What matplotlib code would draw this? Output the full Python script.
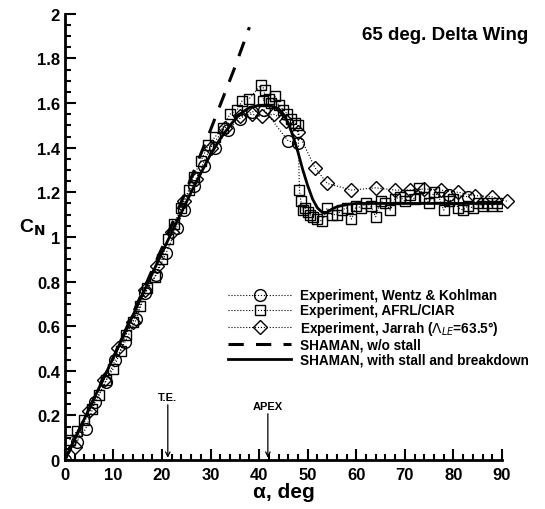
import numpy as np
import matplotlib
matplotlib.use('Agg')
import matplotlib.pyplot as plt

plt.rcParams['font.family'] = ['Liberation Sans', 'DejaVu Sans']

# Experiment, Wentz & Kohlman (NaN splits the two runs)
wentz_a = [0, 2.4, 4.3, 6.2, 8.4, 10.4, 12.4, 14.7, 16.6, 18.8, 20.9, 23.0, 24.5, 26.5,
           28.7, 31.0, 33.5, 36.0, 38.5, 41.0, 46.0, 48.0, np.nan, 79.0, 83.0]
wentz_cn = [0, 0.08, 0.14, 0.26, 0.35, 0.45, 0.53, 0.63, 0.75, 0.83, 0.93, 1.04, 1.12, 1.23,
            1.32, 1.40, 1.48, 1.53, 1.56, 1.57, 1.43, 1.42, np.nan, 1.19, 1.18]

# Experiment, AFRL/CIAR
afrl_a = [1, 2.5, 4, 5.5, 7, 8.5, 10, 11.5, 12.5, 14, 15.5, 17, 18.5, 20, 21.3, 22.5, 24,
          25.5, 26.5, 28, 29.5, 31, 32.5, 34, 35.5, 36.5, 38, 40.3, 41.2, 40.8, 42, 42.5,
          43.3, 44, 45, 45.8, 46.5, 47.3, 48.0, 48.3, 48.6, 49, 49.5, 50, 50.5, 51, 52, 53,
          54, 55, 56, 57, 58, 59, 60, 61, 62, 63, 64, 65, 66, 67, 68, 69, 70, 71, 72, 73,
          74, 75, 76, 77, 78, 79, 80, 81, 82, 83, 84, 85, 86, 87, 88, 89, 90]
afrl_cn = [0.09, 0.13, 0.18, 0.23, 0.29, 0.36, 0.41, 0.49, 0.56, 0.62, 0.69, 0.77, 0.82,
           0.90, 0.99, 1.06, 1.13, 1.21, 1.27, 1.34, 1.41, 1.45, 1.49, 1.55, 1.57, 1.61,
           1.62, 1.68, 1.66, 1.61, 1.62, 1.60, 1.63, 1.59, 1.57, 1.55, 1.53, 1.51, 1.50,
           1.21, 1.16, 1.12, 1.13, 1.11, 1.10, 1.09, 1.08, 1.07, 1.13, 1.10, 1.10, 1.12,
           1.13, 1.08, 1.14, 1.13, 1.15, 1.14, 1.09, 1.16, 1.15, 1.12, 1.17, 1.18, 1.16,
           1.19, 1.17, 1.22, 1.18, 1.15, 1.20, 1.18, 1.12, 1.16, 1.17, 1.13, 1.12, 1.14,
           1.13, 1.15, 1.14, 1.15, 1.14, 1.15, 1.14]

# Experiment, Jarrah
jarrah_a = [2, 5, 8, 11, 14, 16.5, 19, 22, 24.5, 27, 30, 33, 36, 38.5, 40.5, 43, 45.5, 48,
            51.5, 54, 59, 64, 68, 71, 74, 77.5, 81, 84.5, 88, 91]
jarrah_cn = [0.06, 0.22, 0.36, 0.50, 0.62, 0.76, 0.87, 1.02, 1.16, 1.26, 1.40, 1.49, 1.54,
             1.55, 1.54, 1.55, 1.52, 1.47, 1.31, 1.24, 1.21, 1.22, 1.21, 1.21, 1.215,
             1.21, 1.20, 1.185, 1.18, 1.16]

# SHAMAN, w/o stall
nostall_a = [0, 10, 20, 25, 30, 35, 38]
nostall_cn = [0, 0.46, 0.95, 1.21, 1.48, 1.76, 1.94]

# SHAMAN, with stall and breakdown
shaman_a = [0, 10, 20, 26, 30, 32, 34, 36, 38, 40, 42, 44, 45, 46, 47, 48, 49, 50, 51,
            52, 53, 54, 55, 56, 58, 60, 70, 80, 90]
shaman_cn = [0, 0.46, 0.93, 1.20, 1.37, 1.44, 1.50, 1.55, 1.58, 1.59, 1.59, 1.575, 1.55,
             1.51, 1.45, 1.38, 1.30, 1.23, 1.17, 1.13, 1.11, 1.11, 1.125, 1.135, 1.145,
             1.15, 1.15, 1.15, 1.15]

fig = plt.figure(figsize=(5.45, 5.1), dpi=100)
ax = fig.add_axes([0.119, 0.096, 0.802, 0.875])

ax.plot(wentz_a, wentz_cn, color='k', ls=':', lw=0.8, marker='o', ms=8.5, mfc='none',
        mec='k', mew=1.0, label='Experiment, Wentz & Kohlman')
ax.plot(afrl_a, afrl_cn, color='k', ls=':', lw=0.8, marker='s', ms=7, mfc='none',
        mec='k', mew=1.0, label='Experiment, AFRL/CIAR')
ax.plot(jarrah_a, jarrah_cn, color='k', ls=':', lw=0.8, marker='D', ms=7, mfc='none',
        mec='k', mew=1.0, clip_on=False, label=r'Experiment, Jarrah ($\Lambda_{LE}$=63.5°)')
ax.plot(nostall_a, nostall_cn, color='k', ls=(0, (5, 4)), lw=2.2, label='SHAMAN, w/o stall')
ax.plot(shaman_a, shaman_cn, color='k', ls='-', lw=2.0,
        label='SHAMAN, with stall and breakdown')

ax.set_xlim(0, 90)
ax.set_ylim(0, 2)
ax.set_xticks(np.arange(0, 91, 10))
ax.set_xticks(np.arange(0, 91, 2), minor=True)
ax.set_yticks(np.arange(0, 2.01, 0.2))
ax.set_yticks(np.arange(0, 2.01, 0.05), minor=True)
ax.set_yticklabels(['0', '0.2', '0.4', '0.6', '0.8', '1', '1.2', '1.4', '1.6', '1.8', '2'])
ax.tick_params(which='both', direction='in', width=1.5, labelsize=12)
ax.tick_params(which='major', length=8)
ax.tick_params(which='minor', length=4)
ax.tick_params(axis='x', pad=5)
for lab in ax.get_xticklabels() + ax.get_yticklabels():
    lab.set_fontweight('bold')
ax.spines['top'].set_visible(False)
ax.spines['right'].set_visible(False)
ax.spines['left'].set_linewidth(2)
ax.spines['bottom'].set_linewidth(2)

ax.set_xlabel('α, deg', fontsize=15, fontweight='bold', labelpad=0)
ax.set_ylabel(r'C$_\mathbf{N}$', fontsize=14, fontweight='bold', rotation=0, labelpad=3)

fig.text(0.969, 0.931, '65 deg. Delta Wing', ha='right', va='center',
         fontsize=13.5, fontweight='bold')

ax.annotate('T.E.', xy=(21.2, 0.01), xytext=(21.2, 0.26), ha='center', va='bottom',
            fontsize=8, fontweight='bold',
            arrowprops=dict(arrowstyle='->', color='k', lw=0.9, shrinkA=0, shrinkB=0))
ax.annotate('APEX', xy=(41.8, 0.01), xytext=(41.8, 0.22), ha='center', va='bottom',
            fontsize=8, fontweight='bold',
            arrowprops=dict(arrowstyle='->', color='k', lw=0.9, shrinkA=0, shrinkB=0))

ax.legend(loc='upper left', bbox_to_anchor=(0.352, 0.406), frameon=False,
          handlelength=4.6, labelspacing=0.08, handletextpad=0.7, borderpad=0.2,
          prop={'weight': 'bold', 'size': 9.8})

fig.savefig('out.png', dpi=100)
